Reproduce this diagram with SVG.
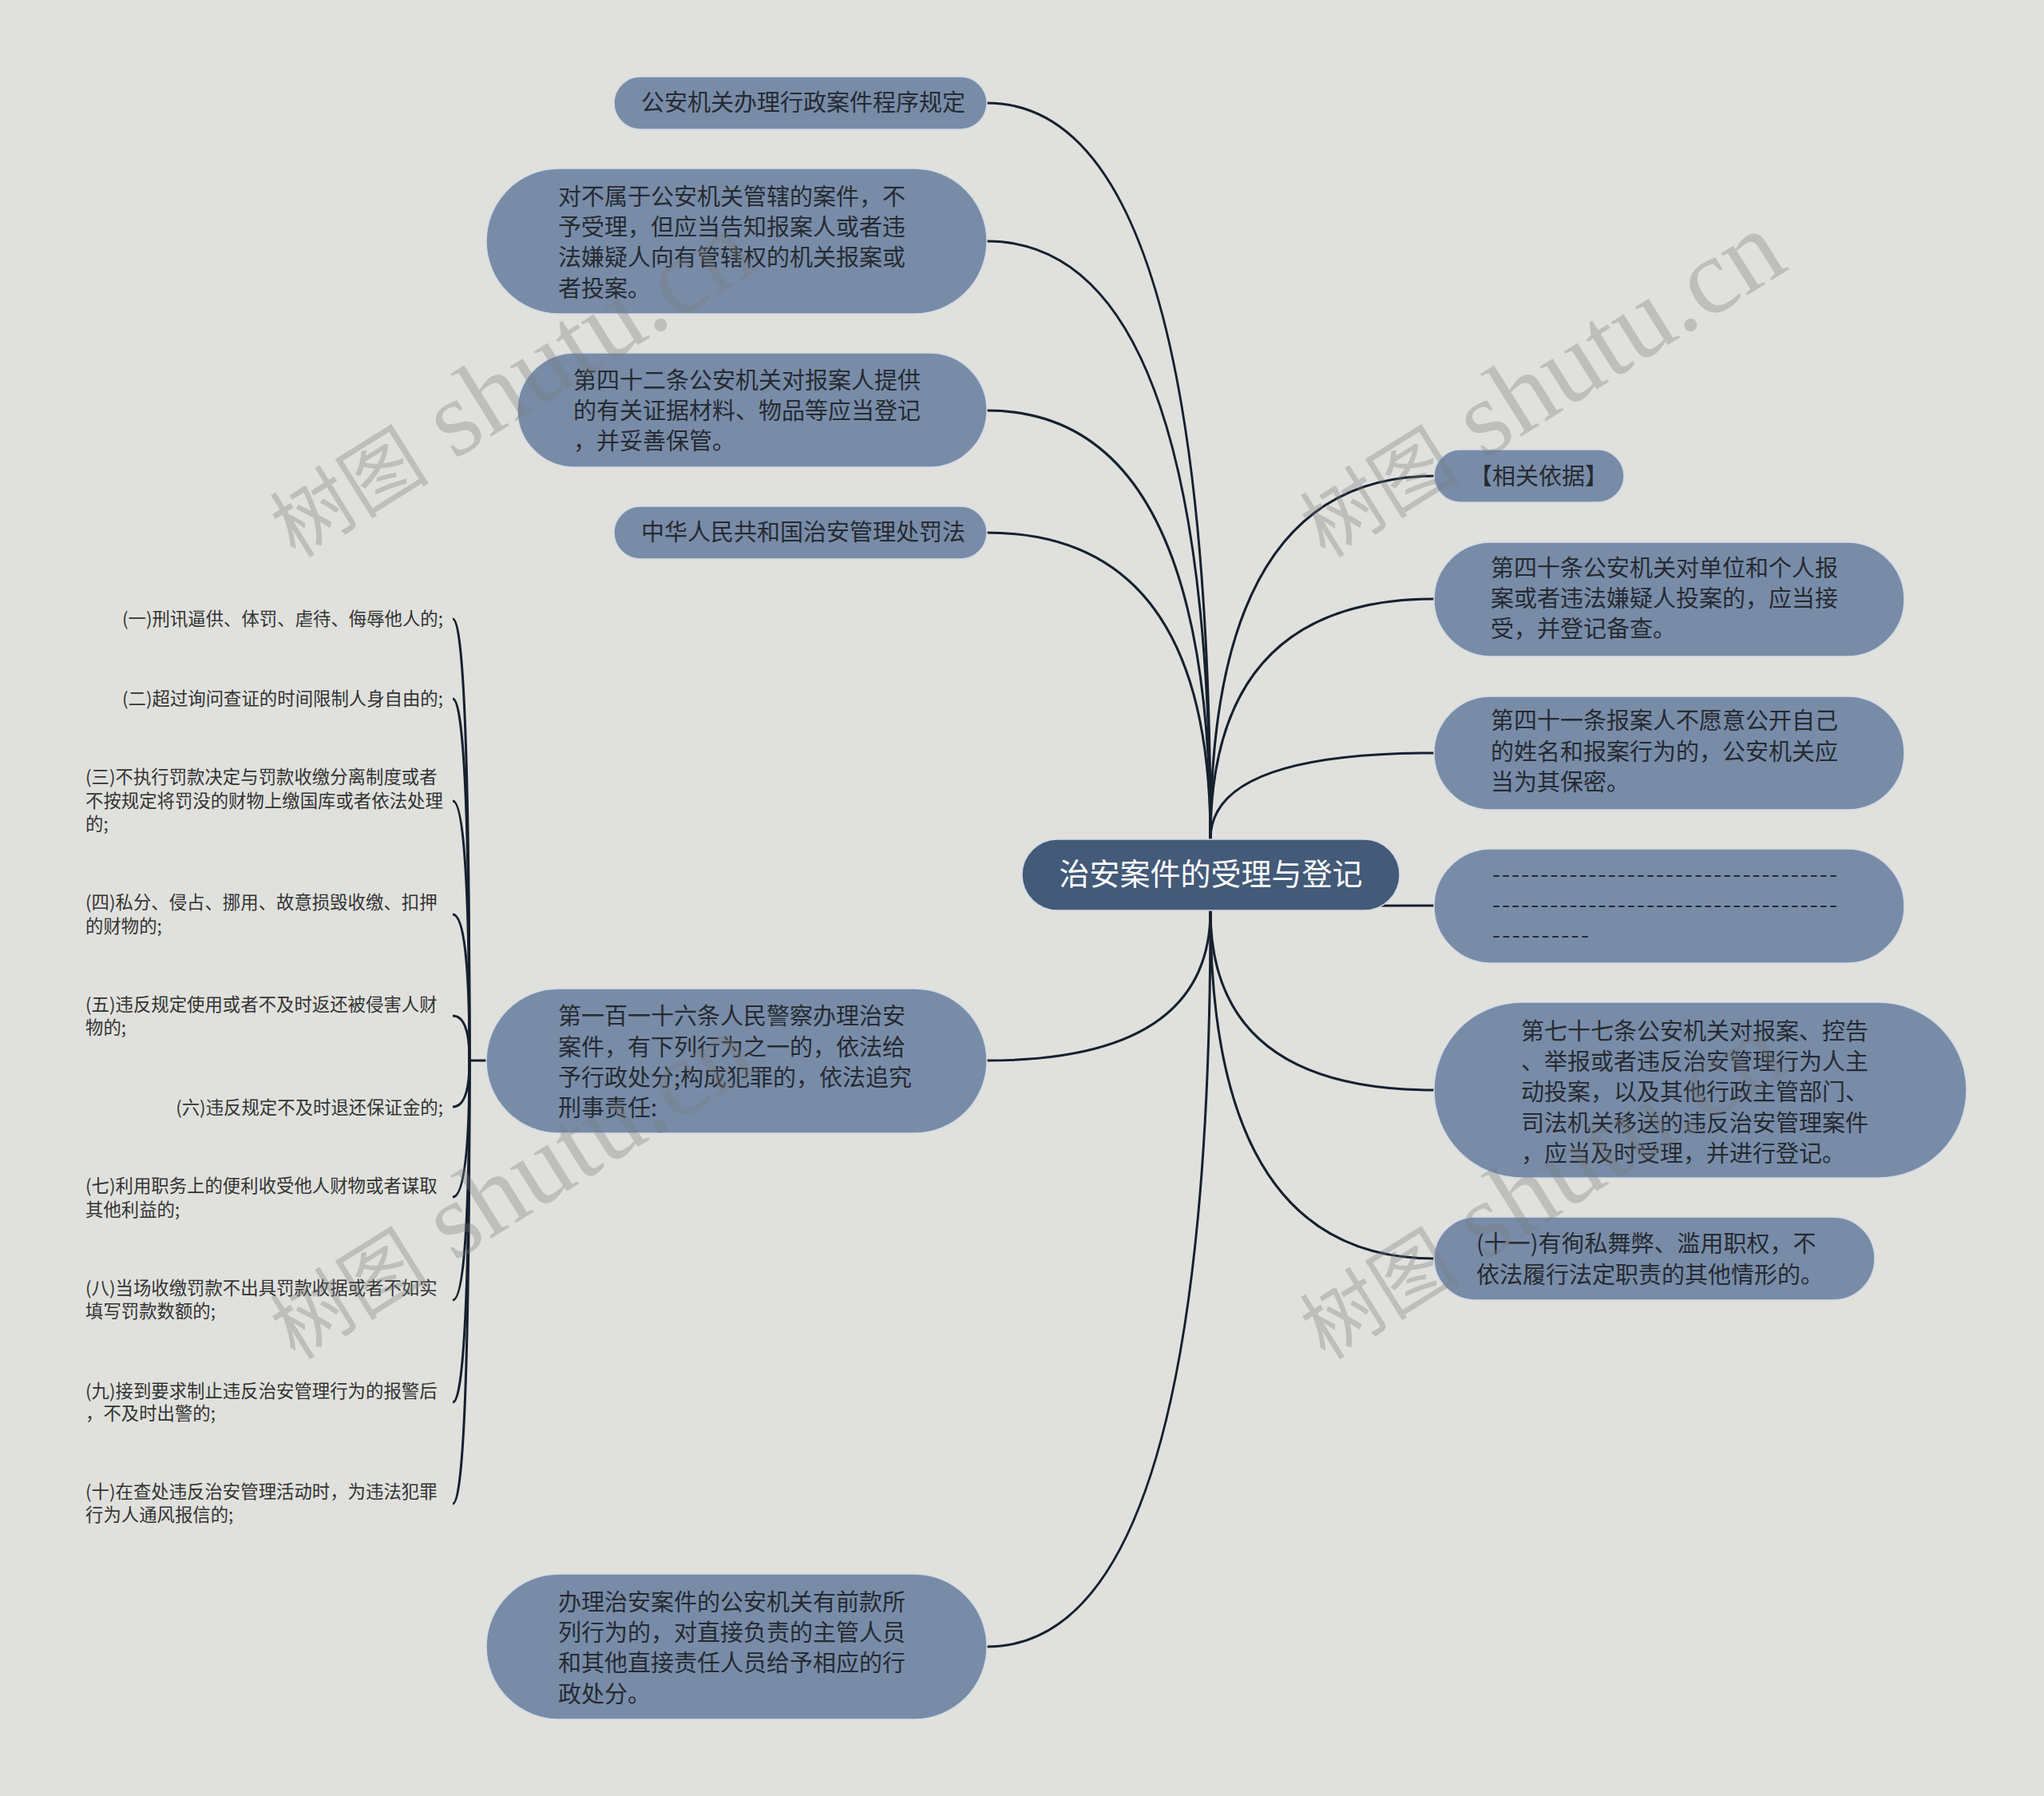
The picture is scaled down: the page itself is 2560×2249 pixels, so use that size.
<svg xmlns="http://www.w3.org/2000/svg" width="2560" height="2249" viewBox="0 0 2560 2249">
<style>
.bg{fill:#e0e1dd}
.node{fill:#788ca8;stroke:#d3dae4;stroke-width:1.5}
.root{fill:#435a78;stroke:#d3dae4;stroke-width:1.5}
.t{font-family:"Noto Sans CJK SC","Microsoft YaHei",sans-serif;font-size:29px;fill:#262a31}
.rt{font-family:"Noto Sans CJK SC","Microsoft YaHei",sans-serif;font-size:38px;fill:#ffffff}
.lf{font-family:"Noto Sans CJK SC","Microsoft YaHei",sans-serif;font-size:22.4px;fill:#333333}
.c{fill:none;stroke:#16202e;stroke-width:3}
.wm{font-family:"Liberation Serif","Noto Sans CJK SC",serif;font-size:135px;fill:#7a7a7a;opacity:0.32}
.wz{font-family:"Noto Sans CJK SC",serif;font-size:100px}
</style>
<rect class="bg" x="0" y="0" width="2560" height="2249"/>

<g id="connectors">
  <path class="c" d="M1516 1051 Q1516 129 1236 129"/>
  <path class="c" d="M1516 1051 Q1516 302 1236 302"/>
  <path class="c" d="M1516 1051 Q1516 514 1236 514"/>
  <path class="c" d="M1516 1051 Q1516 667 1236 667"/>
  <path class="c" d="M1516 1140 Q1516 1328 1236 1328"/>
  <path class="c" d="M1516 1140 Q1516 2062 1236 2062"/>
  <path class="c" d="M1516 1051 Q1516 596 1796 596"/>
  <path class="c" d="M1516 1051 Q1516 750 1796 750"/>
  <path class="c" d="M1516 1051 Q1516 943 1796 943"/>
  <path class="c" d="M1516 1140 Q1516 1134 1796 1134"/>
  <path class="c" d="M1516 1140 Q1516 1365 1796 1365"/>
  <path class="c" d="M1516 1140 Q1516 1576 1796 1576"/>
  <path class="c" d="M609 1328 L588 1328"/>
  <path class="c" d="M588 1328 Q588 775 567 775"/>
  <path class="c" d="M588 1328 Q588 875 567 875"/>
  <path class="c" d="M588 1328 Q588 1003 567 1003"/>
  <path class="c" d="M588 1328 Q588 1145 567 1145"/>
  <path class="c" d="M588 1328 Q588 1272 567 1272"/>
  <path class="c" d="M588 1328 Q588 1386 567 1386"/>
  <path class="c" d="M588 1328 Q588 1499 567 1499"/>
  <path class="c" d="M588 1328 Q588 1628 567 1628"/>
  <path class="c" d="M588 1328 Q588 1756 567 1756"/>
  <path class="c" d="M588 1328 Q588 1883 567 1883"/>
</g>

<g id="root">
  <rect class="root" x="1280" y="1051" width="473" height="89" rx="44.5"/>
  <text class="rt" x="1516.5" y="1108" text-anchor="middle">治安案件的受理与登记</text>
</g>

<g id="n-l1">
  <rect class="node" x="769" y="96" width="467" height="66" rx="33"/>
  <text class="t" x="803" y="139">公安机关办理行政案件程序规定</text>
</g>
<g id="n-l2">
  <rect class="node" x="609" y="211" width="627" height="182" rx="91"/>
  <text class="t" x="699" y="257">对不属于公安机关管辖的案件，不</text>
  <text class="t" x="699" y="295">予受理，但应当告知报案人或者违</text>
  <text class="t" x="699" y="333">法嫌疑人向有管辖权的机关报案或</text>
  <text class="t" x="699" y="372">者投案。</text>
</g>
<g id="n-l3">
  <rect class="node" x="648" y="442" width="588" height="143" rx="71.5"/>
  <text class="t" x="718" y="487">第四十二条公安机关对报案人提供</text>
  <text class="t" x="718" y="525">的有关证据材料、物品等应当登记</text>
  <text class="t" x="718" y="563">，并妥善保管。</text>
</g>
<g id="n-l4">
  <rect class="node" x="769" y="634" width="467" height="66" rx="33"/>
  <text class="t" x="803" y="677">中华人民共和国治安管理处罚法</text>
</g>
<g id="n-l5">
  <rect class="node" x="609" y="1238" width="627" height="181" rx="90.5"/>
  <text class="t" x="699" y="1283">第一百一十六条人民警察办理治安</text>
  <text class="t" x="699" y="1322">案件，有下列行为之一的，依法给</text>
  <text class="t" x="699" y="1360">予行政处分;构成犯罪的，依法追究</text>
  <text class="t" x="699" y="1398">刑事责任:</text>
</g>
<g id="n-l6">
  <rect class="node" x="609" y="1971" width="627" height="182" rx="91"/>
  <text class="t" x="699" y="2017">办理治安案件的公安机关有前款所</text>
  <text class="t" x="699" y="2055">列行为的，对直接负责的主管人员</text>
  <text class="t" x="699" y="2093">和其他直接责任人员给予相应的行</text>
  <text class="t" x="699" y="2132">政处分。</text>
</g>

<g id="leaf-1"><text class="lf" x="555" y="783" text-anchor="end">(一)刑讯逼供、体罚、虐待、侮辱他人的;</text></g>
<g id="leaf-2"><text class="lf" x="555" y="883" text-anchor="end">(二)超过询问查证的时间限制人身自由的;</text></g>
<g id="leaf-3">
  <text class="lf" x="107" y="981">(三)不执行罚款决定与罚款收缴分离制度或者</text>
  <text class="lf" x="107" y="1011">不按规定将罚没的财物上缴国库或者依法处理</text>
  <text class="lf" x="107" y="1040">的;</text>
</g>
<g id="leaf-4">
  <text class="lf" x="107" y="1138">(四)私分、侵占、挪用、故意损毁收缴、扣押</text>
  <text class="lf" x="107" y="1168">的财物的;</text>
</g>
<g id="leaf-5">
  <text class="lf" x="107" y="1266">(五)违反规定使用或者不及时返还被侵害人财</text>
  <text class="lf" x="107" y="1295">物的;</text>
</g>
<g id="leaf-6"><text class="lf" x="555" y="1395" text-anchor="end">(六)违反规定不及时退还保证金的;</text></g>
<g id="leaf-7">
  <text class="lf" x="107" y="1493">(七)利用职务上的便利收受他人财物或者谋取</text>
  <text class="lf" x="107" y="1523">其他利益的;</text>
</g>
<g id="leaf-8">
  <text class="lf" x="107" y="1621">(八)当场收缴罚款不出具罚款收据或者不如实</text>
  <text class="lf" x="107" y="1650">填写罚款数额的;</text>
</g>
<g id="leaf-9">
  <text class="lf" x="107" y="1750">(九)接到要求制止违反治安管理行为的报警后</text>
  <text class="lf" x="107" y="1778">，不及时出警的;</text>
</g>
<g id="leaf-10">
  <text class="lf" x="107" y="1876">(十)在查处违反治安管理活动时，为违法犯罪</text>
  <text class="lf" x="107" y="1905">行为人通风报信的;</text>
</g>

<g id="n-r1">
  <rect class="node" x="1796" y="563" width="238" height="66" rx="33"/>
  <text class="t" x="1840" y="607">【相关依据】</text>
</g>
<g id="n-r2">
  <rect class="node" x="1796" y="679" width="589" height="143" rx="71.5"/>
  <text class="t" x="1867" y="722">第四十条公安机关对单位和个人报</text>
  <text class="t" x="1867" y="760">案或者违法嫌疑人投案的，应当接</text>
  <text class="t" x="1867" y="798">受，并登记备查。</text>
</g>
<g id="n-r3">
  <rect class="node" x="1796" y="872" width="589" height="142" rx="71"/>
  <text class="t" x="1867" y="913">第四十一条报案人不愿意公开自己</text>
  <text class="t" x="1867" y="952">的姓名和报案行为的，公安机关应</text>
  <text class="t" x="1867" y="990">当为其保密。</text>
</g>
<g id="n-r4">
  <rect class="node" x="1796" y="1063" width="589" height="143" rx="71.5"/>
  <text class="t" x="1869" y="1105" textLength="432" lengthAdjust="spacing">------------------------------------</text>
  <text class="t" x="1869" y="1143" textLength="432" lengthAdjust="spacing">------------------------------------</text>
  <text class="t" x="1869" y="1181" textLength="121" lengthAdjust="spacing">----------</text>
</g>
<g id="n-r5">
  <rect class="node" x="1796" y="1255" width="667" height="220" rx="110"/>
  <text class="t" x="1905" y="1302">第七十七条公安机关对报案、控告</text>
  <text class="t" x="1905" y="1340">、举报或者违反治安管理行为人主</text>
  <text class="t" x="1905" y="1378">动投案，以及其他行政主管部门、</text>
  <text class="t" x="1905" y="1417">司法机关移送的违反治安管理案件</text>
  <text class="t" x="1905" y="1455">，应当及时受理，并进行登记。</text>
</g>
<g id="n-r6">
  <rect class="node" x="1796" y="1524" width="552" height="104" rx="52"/>
  <text class="t" x="1849" y="1568">(十一)有徇私舞弊、滥用职权，不</text>
  <text class="t" x="1849" y="1607">依法履行法定职责的其他情形的。</text>
</g>

<g id="watermarks">
  <text class="wm" transform="translate(370 700) rotate(-32)"><tspan class="wz">树图</tspan> shutu.cn</text>
  <text class="wm" transform="translate(1660 700) rotate(-32)"><tspan class="wz">树图</tspan> shutu.cn</text>
  <text class="wm" transform="translate(370 1704) rotate(-32)"><tspan class="wz">树图</tspan> shutu.cn</text>
  <text class="wm" transform="translate(1660 1704) rotate(-32)"><tspan class="wz">树图</tspan> shutu.cn</text>
</g>
</svg>
